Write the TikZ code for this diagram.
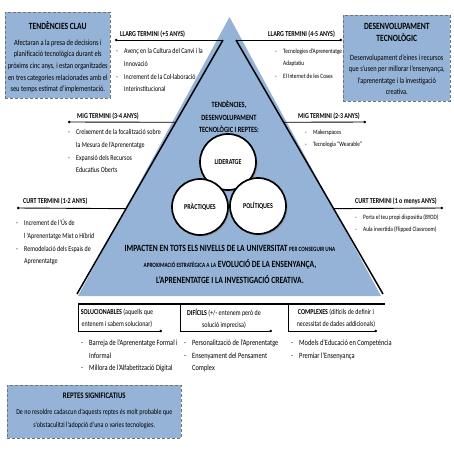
\documentclass[tikz,border=0pt]{standalone}
\usepackage{fontspec}
\setmainfont{Carlito}[FakeStretch=0.8]
\usetikzlibrary{arrows.meta,positioning,shadows}

\definecolor{steel}{RGB}{149,179,215}
\newcommand{\itm}{\makebox[8pt][l]{-}}
\newcommand{\ind}{\hspace*{8pt}}
\newcommand{\fsz}[2]{\fontsize{#1}{#2}\selectfont}

\begin{document}
\begin{tikzpicture}[
  x=1pt,y=-1pt,
  infobox/.style={rectangle,draw=black!55,densely dashed,line width=0.6pt,fill=steel,inner sep=0pt},
  boxtitle/.style={font=\fsz{9.5}{12.5}\bfseries,align=center,inner sep=0pt},
  boxtext/.style={font=\fsz{8}{11.6},align=center,inner sep=0pt},
  term/.style={font=\fsz{7.5}{9}\bfseries,inner sep=0pt,anchor=base west},
  items/.style={font=\fsz{7.5}{12.8},align=left,inner sep=0pt,anchor=north west},
  ritems/.style={items,font=\fsz{6.6}{12.6}},
  termline/.style={line width=0.9pt,-{Circle[length=2.4pt]}},
  edge/.style={line width=1.5pt},
  ring/.style={circle,draw=black,line width=1.7pt,fill=white,minimum size=56pt,inner sep=0pt,
    font=\fsz{7.5}{9}\bfseries,drop shadow={shadow xshift=1.5pt,shadow yshift=-1.5pt}},
  colhead/.style={font=\fsz{7.5}{11.5},align=center,inner sep=0pt,anchor=north},
  bigline/.style={font=\fsz{9.5}{11}\bfseries,inner sep=0pt,anchor=base}
]
\useasboundingbox (0,0) rectangle (453,453);

% triangle
\coordinate (apex) at (229.5,17);
\coordinate (bl) at (78,296);
\coordinate (br) at (381,296);
\fill[steel] (apex) -- (bl) -- (br) -- cycle;
\coordinate (llL-a) at (223,40);
\coordinate (llR-a) at (236,40);
\coordinate (eL) at (77,294);
\coordinate (eR) at (383,294);
\path (llL-a) -- (eL) coordinate[pos=0.324] (migL-a) coordinate[pos=0.664] (curtL-a);
\path (llR-a) -- (eR) coordinate[pos=0.324] (migR-a) coordinate[pos=0.664] (curtR-a);
\draw[edge] (llL-a) -- (eL);
\draw[edge] (llR-a) -- (eR);

% terms, left side
\coordinate (llL-b) at (115,40);
\coordinate (migL-b) at (68,122);
\coordinate (curtL-b) at (17,208);
\draw[termline] (llL-a) -- (llL-b);
\draw[termline] (migL-a) -- (migL-b);
\draw[termline] (curtL-a) -- (curtL-b);
\node[term] (llL) at (120,36) {LLARG TERMINI (+5 ANYS)};
\node[items] (llL-i) at (116,48) {\itm Avenç en la Cultura del Canvi i la\\\ind Innovació\\\itm Increment de la Col·laboració\\\ind Interinstitucional};
\node[term] (migL) at (77,118) {MIG TERMINI (3-4 ANYS)};
\node[items] (migL-i) at (68,129) {\itm Creixement de la focalització sobre\\\ind la Mesura de l'Aprenentatge\\\itm Expansió dels Recursos\\\ind Educatius Oberts};
\node[term] (curtL) at (23,203) {CURT TERMINI (1-2 ANYS)};
\node[items] (curtL-i) at (16,219) {\itm Increment de l'Ús de\\\ind l 'Aprenentatge Mixt o Híbrid\\\itm Remodelació dels Espais de\\\ind Aprenentatge};

% terms, right side
\coordinate (llR-b) at (342,40);
\coordinate (migR-b) at (366,122);
\coordinate (curtR-b) at (443,208);
\draw[termline] (llR-a) -- (llR-b);
\draw[termline] (migR-a) -- (migR-b);
\draw[termline] (curtR-a) -- (curtR-b);
\node[term] (llR) at (268,36) {LLARG TERMINI (4-5 ANYS)};
\node[ritems] (llR-i) at (275,48.5) {\itm Tecnologies d'Aprenentatge\\\ind Adaptatiu\\\itm El Internet de les Coses};
\node[term] (migR) at (298,118) {MIG TERMINI (2-3 ANYS)};
\node[ritems] (migR-i) at (305,129.5) {\itm Makerspaces\\\itm Tecnologia “Wearable”};
\node[term] (curtR) at (355,203) {CURT TERMINI (1 o menys ANYS)};
\node[ritems] (curtR-i) at (355,214) {\itm Porta el teu propi dispositiu (BYOD)\\\itm Aula invertida (Flipped Classroom)};

% inside the triangle
\node[font=\fsz{8}{12.5}\bfseries,align=center,inner sep=0pt,anchor=north] (tritit) at (229,101)
  {TENDÈNCIES,\\DESENVOLUPAMENT\\TECNOLÒGIC I REPTES:};
\node[ring] (lid) at (228,162) {LIDERATGE};
\node[ring] (pra) at (200,207) {PRÀCTIQUES};
\node[ring] (pol) at (258,206) {POLÍTIQUES};
\node[bigline] (imp1) at (230,251) {IMPACTEN EN TOTS ELS NIVELLS DE LA UNIVERSITAT {\fsz{6.5}{8}PER CONSEGUIR UNA}};
\node[bigline] (imp2) at (230,267) {{\fsz{6.5}{8}APROXIMACIÓ ESTRATÈGICA A LA} EVOLUCIÓ DE LA ENSENYANÇA,};
\node[bigline] (imp3) at (230,283) {L'APRENENTATGE I LA INVESTIGACIÓ CREATIVA.};

% challenges
\coordinate (tbl-l) at (78,304);
\coordinate (tbl-r) at (385,304);
\draw[edge] (tbl-l) -- (tbl-r);
\foreach \c/\xa/\xb in {sol/78/162,dif/180/272,com/288/377}{
  \coordinate (\c-top) at (\xa,304);
  \coordinate (\c-end) at (\xb,331);
  \draw[termline] (\c-top) |- (\c-end);
}
\node[colhead] (sol-h) at (117,309) {\textbf{SOLUCIONABLES} (aquells que\\entenem i sabem solucionar)};
\node[colhead] (dif-h) at (224,309) {\textbf{DIFÍCILS} (+/- entenem però de\\solució imprecisa)};
\node[colhead] (com-h) at (336,309) {\textbf{COMPLEXES} (difícils de definir i\\necessitat de dades addicionals)};
\node[items,font=\fsz{8}{12.3}] (sol-i) at (81,340) {\itm Barreja de l'Aprenentatge Formal i\\\ind Informal\\\itm Millora de l'Alfabetització Digital};
\node[items,font=\fsz{8}{12.3}] (dif-i) at (184,340) {\itm Personalització de l'Aprenentatge\\\itm Ensenyament del Pensament\\\ind Complex};
\node[items,font=\fsz{8}{12.3}] (com-i) at (291,340) {\itm Models d'Educació en Competència\\\itm Premiar l'Ensenyança};

% boxes
\node[infobox,minimum width=105pt,minimum height=86pt,anchor=north west] (tenbox) at (5,12) {};
\node[boxtitle,below=9pt of tenbox.north] (tentit) {TENDÈNCIES CLAU};
\node[boxtext,below=10pt of tentit] (tentxt) {Afectaran a la presa de decisions i\\planificació tecnològica durant els\\pròxims cinc anys, i estan organitzades\\en tres categories relacionades amb el\\seu temps estimat d'implementació.};

\node[infobox,minimum width=107pt,minimum height=86pt,anchor=north west] (desbox) at (343,15) {};
\node[boxtitle,below=8pt of desbox.north] (destit) {DESENVOLUPAMENT\\TECNOLÒGIC};
\node[boxtext,below=12pt of destit] (destxt) {Desenvolupament d'eines i recursos\\que s'usen per millorar l'ensenyança,\\l'aprenentatge i la investigació\\creativa.};

\node[infobox,minimum width=174pt,minimum height=53pt,anchor=north west] (repbox) at (7,385) {};
\node[boxtitle,font=\fsz{8.5}{11}\bfseries,below=8pt of repbox.north] (reptit) {REPTES SIGNIFICATIUS};
\node[boxtext,font=\fsz{7.6}{12.5},below=10pt of reptit] (reptxt) {De no resoldre cadascun d'aquests reptes és molt probable que\\s'obstaculitzi l'adopció d'una o varies tecnologies.};
\end{tikzpicture}
\end{document}
